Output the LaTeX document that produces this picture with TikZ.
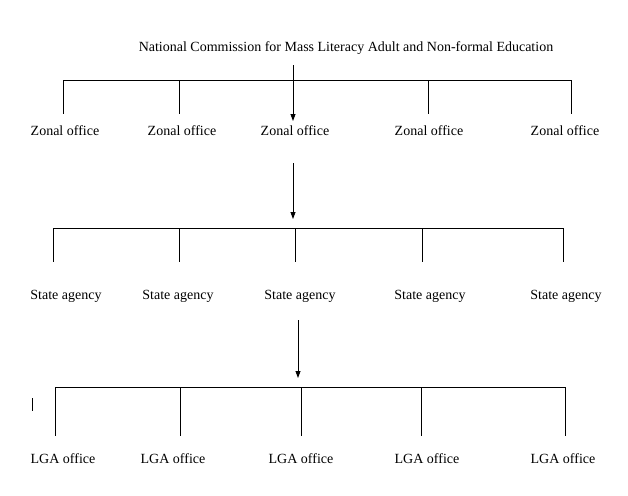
\documentclass[tikz,border=0pt]{standalone}
\usepackage{fontspec}
\setmainfont{Liberation Serif}
\usetikzlibrary{arrows.meta}

\begin{document}
\begin{tikzpicture}[x=1pt,y=-1pt,
  office/.style={font=\fontsize{14}{16}\selectfont, inner sep=0pt},
  level/.style={line width=.8pt},
  down/.style={line width=.8pt, -{Triangle[length=7pt,width=5pt]}}]
\useasboundingbox (0,0) rectangle (628,495);
\node[office] (top) at (346,48) {National Commission for Mass Literacy Adult and Non-formal Education};
% zonal offices
\draw[level] (63,80) -- (571,80);
\foreach \x in {63,179,428,571} \draw[level] (\x,80) -- (\x,114);
\draw[down] (293,65) coordinate (a1) -- (293,121) coordinate (b1);
\foreach \x/\n in {65/1,182/2,295/3,429/4,565/5} \node[office] (z\n) at (\x,131) {Zonal office};
\draw[down] (293,163) coordinate (a2) -- (293,219) coordinate (b2);
% state agencies
\draw[level] (53,228) -- (563,228);
\foreach \x in {53,179,295,422,563} \draw[level] (\x,228) -- (\x,262);
\foreach \x/\n in {66/1,178/2,300/3,430/4,566/5} \node[office] (s\n) at (\x,296) {State agency};
\draw[down] (298,320) coordinate (a3) -- (298,378) coordinate (b3);
% lga offices
\draw[level] (55,387) -- (565,387);
\foreach \x in {55,180,301,421,565} \draw[level] (\x,387) -- (\x,436);
\draw[level] (32,398) -- (32,411);
\foreach \x/\n in {63/1,173/2,301/3,427/4,563/5} \node[office] (l\n) at (\x,459) {LGA office};
\end{tikzpicture}
\end{document}
